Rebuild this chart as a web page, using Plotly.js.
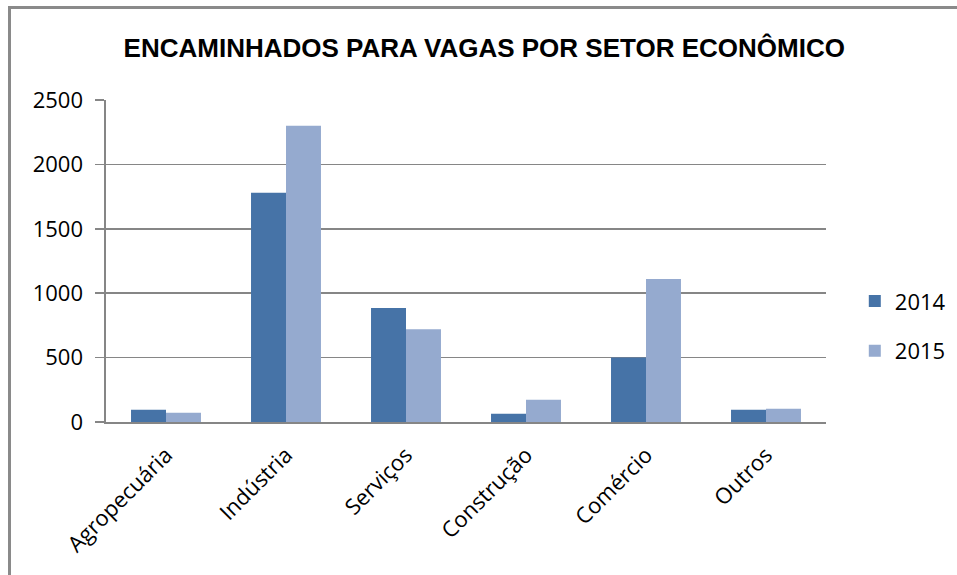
<!DOCTYPE html>
<html>
<head>
<meta charset="utf-8">
<script src="https://cdn.plot.ly/plotly-3.0.1.min.js"></script>
<style>
  html, body { margin: 0; padding: 0; background: #fff; overflow: hidden; }
  #chart { width: 957px; height: 575px; position: absolute; left: 0; top: 0; }
  #frame { position: absolute; left: 8px; top: 6px; width: 2000px; height: 2000px;
           border-left: 3px solid #8a8a8a; border-top: 3px solid #8a8a8a; pointer-events: none; }
</style>
</head>
<body>
<div id="chart"></div>
<div id="frame"></div>
<script>
const categories = ['Agropecuária', 'Indústria', 'Serviços', 'Construção', 'Comércio', 'Outros'];
const seriesNames = ['2014', '2015'];
const values2014 = [95, 1780, 885, 65, 500, 95];
const values2015 = [72, 2300, 720, 173, 1110, 103];
const yTickValues = [0, 500, 1000, 1500, 2000, 2500];
const titleText = 'ENCAMINHADOS PARA VAGAS POR SETOR ECONÔMICO';

const FONT = 'Open Sans, Noto Sans, Liberation Sans, sans-serif';

const traces = [
  { type: 'bar', name: seriesNames[0], x: categories, y: values2014,
    marker: { color: '#4673A7' }, legendgroup: 'a', hoverinfo: 'x+y' },
  { type: 'bar', name: seriesNames[1], x: categories, y: values2015,
    marker: { color: '#95AACF' }, legendgroup: 'b', hoverinfo: 'x+y' }
];

const layout = {
  width: 957, height: 575,
  margin: { l: 106, r: 131, t: 100, b: 153, pad: 0, autoexpand: false },
  paper_bgcolor: '#ffffff', plot_bgcolor: '#ffffff',
  font: { family: FONT, color: '#000000', size: 22 },
  title: {
    text: '<b>' + titleText + '</b>',
    font: { family: 'Liberation Sans, Arial, sans-serif', size: 26, color: '#000000' },
    xref: 'container', yref: 'container', x: 0.506, xanchor: 'center', y: 0.916, yanchor: 'middle'
  },
  barmode: 'group', bargap: 0.417, bargroupgap: 0,
  xaxis: {
    type: 'category', tickangle: -45, showgrid: false, automargin: false,
    showline: true, linecolor: '#868686', linewidth: 1.5,
    ticks: '', ticklabelstandoff: 10,
    tickfont: { family: FONT, size: 22, color: '#000' },
    fixedrange: true
  },
  yaxis: {
    range: [0, 2500], tickvals: yTickValues, ticktext: yTickValues.map(String),
    automargin: false,
    showgrid: true, gridcolor: '#868686', gridwidth: 1.6,
    showline: true, linecolor: '#868686', linewidth: 1.6,
    zeroline: false,
    ticks: 'outside', ticklen: 9, tickcolor: '#868686', tickwidth: 1.6,
    ticklabelstandoff: 8,
    tickfont: { family: FONT, size: 22, color: '#000' },
    fixedrange: true
  },
  showlegend: true,
  legend: {
    x: 1.04, xanchor: 'left', y: 0.44, yanchor: 'top',
    traceorder: 'grouped', tracegroupgap: 18,
    font: { family: FONT, size: 22, color: '#000' },
    itemwidth: 30, bgcolor: 'rgba(0,0,0,0)'
  }
};

Plotly.newPlot('chart', traces, layout, { displayModeBar: false, staticPlot: true });
</script>
</body>
</html>
